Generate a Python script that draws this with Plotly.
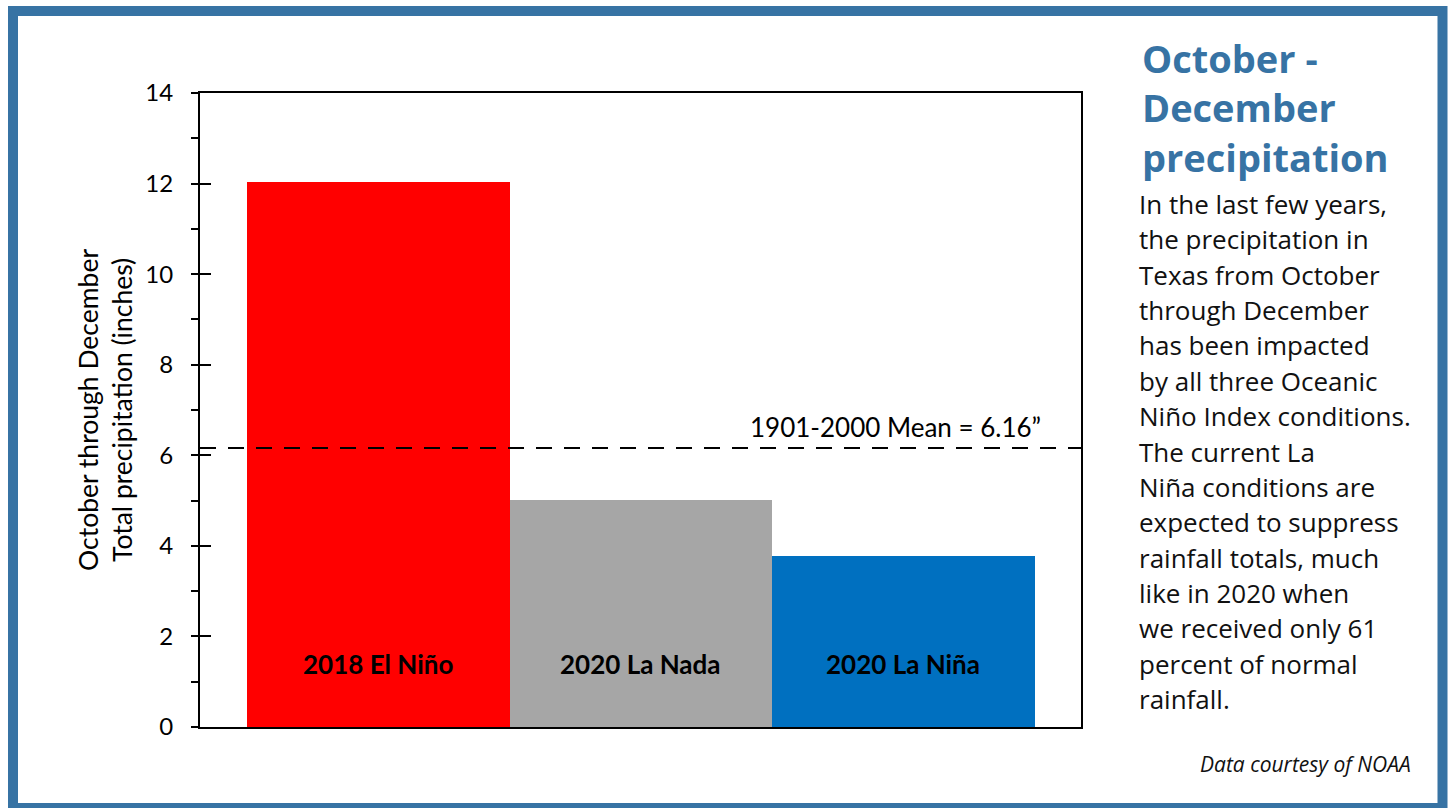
import plotly.graph_objects as go

# ---------------- data ----------------
CATEGORIES = ["2018 El Niño", "2020 La Nada", "2020 La Niña"]
PRECIP_IN = [12.03, 5.02, 3.78]
BAR_COLORS = ["#ff0000", "#a6a6a6", "#0070c0"]
MEAN_1901_2000 = 6.16
MEAN_LABEL = "1901-2000 Mean = 6.16\u201d"
Y_TICKS = [0, 2, 4, 6, 8, 10, 12, 14]
Y_TITLE_LINES = ["October through December", "Total precipitation (inches)"]
SIDE_TITLE = ["October -", "December", "precipitation"]
SIDE_BODY = [
    "In the last few years,",
    "the precipitation in",
    "Texas from October",
    "through December",
    "has been impacted",
    "by all three Oceanic",
    "Niño Index conditions.",
    "The current La",
    "Niña conditions are",
    "expected to suppress",
    "rainfall totals, much",
    "like in 2020 when",
    "we received only 61",
    "percent of normal",
    "rainfall.",
]
SOURCE = "Data courtesy of NOAA"

# ---------------- layout geometry (pixels) ----------------
W, H = 1450, 808
L, R, T, B = 200, 1081, 93, 727
FRAME = "#3773a4"
CHART_FONT = "Lato"
SIDE_FONT = "Open Sans"


def px_x(p):
    return (p - L) / (R - L)


def px_y(p):
    return (B - p) / (B - T)


x_idx = list(range(len(CATEGORIES)))

fig = go.Figure()
fig.add_trace(go.Bar(
    x=x_idx, y=PRECIP_IN, width=1.0,
    marker=dict(color=BAR_COLORS, line=dict(width=0)),
    hovertext=CATEGORIES, showlegend=False,
))

annotations = []
# bar labels
for i, name in enumerate(CATEGORIES):
    annotations.append(dict(
        x=i, y=1.4, xref="x", yref="y", text=f"<b>{name}</b>", showarrow=False,
        font=dict(family=CHART_FONT, size=26, color="black"),
        xanchor="center", yanchor="middle",
    ))
# mean label
annotations.append(dict(
    x=px_x(1043), y=6.62, xref="paper", yref="y", text=MEAN_LABEL, showarrow=False,
    font=dict(family=CHART_FONT, size=26, color="black"),
    xanchor="right", yanchor="middle",
))
# y-axis title (two rotated lines)
for cx, line in zip([88, 122], Y_TITLE_LINES):
    annotations.append(dict(
        x=px_x(cx), y=0.5, xref="paper", yref="paper", text=line, showarrow=False,
        textangle=-90, font=dict(family=CHART_FONT, size=26.5, color="black"),
        xanchor="center", yanchor="middle",
    ))
# side title (one block, three lines)
annotations.append(dict(
    x=px_x(1140), y=px_y(30), xref="paper", yref="paper",
    text="<br>".join(f"<b>{s}</b>" for s in SIDE_TITLE),
    showarrow=False, font=dict(family=SIDE_FONT, size=38, color=FRAME),
    xanchor="left", yanchor="top", align="left",
))
# side body
for k, line in enumerate(SIDE_BODY):
    cy = 204 + 35.36 * k
    annotations.append(dict(
        x=px_x(1137), y=px_y(cy), xref="paper", yref="paper", text=line,
        showarrow=False, font=dict(family=SIDE_FONT, size=26, color="#111111"),
        xanchor="left", yanchor="middle",
    ))
# source
annotations.append(dict(
    x=px_x(1413), y=px_y(764), xref="paper", yref="paper", text=f"<i>{SOURCE}</i>",
    showarrow=False, font=dict(family=SIDE_FONT, size=21, color="#111111"),
    xanchor="right", yanchor="middle",
))

shapes = [
    # mean line
    dict(type="line", xref="x domain", yref="y", x0=0, x1=1,
         y0=MEAN_1901_2000, y1=MEAN_1901_2000,
         line=dict(color="black", width=2, dash="16px,12px"), layer="above"),
    # outer frame
    dict(type="rect", xref="paper", yref="paper",
         x0=px_x(13), x1=px_x(1442.5), y0=px_y(808), y1=px_y(11),
         line=dict(color=FRAME, width=10), fillcolor="rgba(0,0,0,0)", layer="above"),
]

fig.update_layout(
    width=W, height=H,
    margin=dict(l=L, r=W - R, t=T, b=H - B, pad=0),
    paper_bgcolor="white", plot_bgcolor="white",
    bargap=0,
    annotations=annotations,
    shapes=shapes,
    xaxis=dict(
        range=[-0.679, 2.677], showticklabels=False, ticks="", showgrid=False,
        zeroline=False, showline=True, linecolor="black", linewidth=1.5,
        mirror=True, layer="below traces", fixedrange=True,
    ),
    yaxis=dict(
        range=[0, 14], tickvals=Y_TICKS, ticks="outside", ticklen=7, tickwidth=1.5,
        tickcolor="black", showgrid=False, zeroline=False, showline=True,
        linecolor="black", linewidth=2, mirror=True,
        tickfont=dict(family=CHART_FONT, size=24, color="black"),
        ticklabelstandoff=13,
        minor=dict(dtick=1, ticks="outside", ticklen=7, tickwidth=1.5, tickcolor="black"),
        fixedrange=True,
    ),
    yaxis2=dict(
        range=[0, 14], tickvals=Y_TICKS, ticks="inside", ticklen=11, tickwidth=1.5,
        tickcolor="black", overlaying="y", side="left", anchor="x",
        showticklabels=False, showgrid=False, zeroline=False, showline=False,
        fixedrange=True,
    ),
)
# invisible trace to activate yaxis2
fig.add_trace(go.Scatter(x=[None], y=[None], yaxis="y2", showlegend=False, hoverinfo="skip"))

fig.write_html(
    "out.html",
    config={"displayModeBar": False},
    post_script="document.body.style.margin='0';document.body.style.overflow='hidden';",
)
